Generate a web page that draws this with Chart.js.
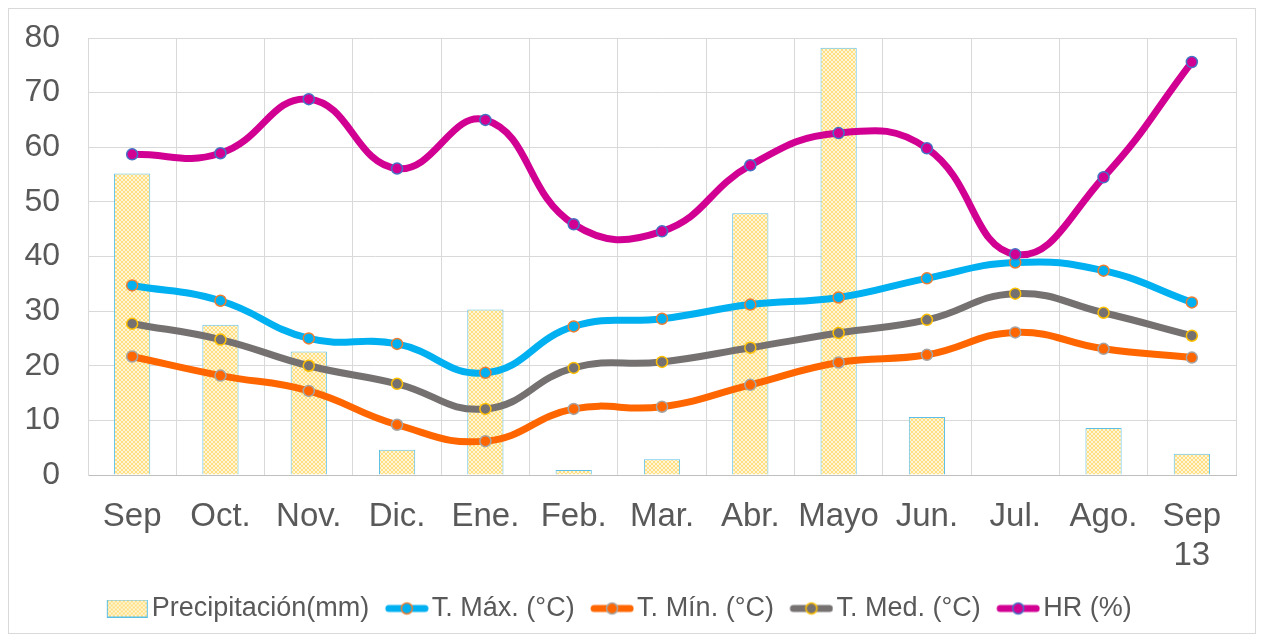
<!DOCTYPE html>
<html>
<head>
<meta charset="utf-8">
<script src="https://cdn.jsdelivr.net/npm/chart.js@4"></script>
<style>
  html, body { margin: 0; padding: 0; background: #fff; }
  #wrap { width: 1264px; height: 636px; }
</style>
</head>
<body>
<div id="wrap"><canvas id="chart" width="1264" height="636"></canvas></div>
<script>
const months = ['Sep', 'Oct.', 'Nov.', 'Dic.', 'Ene.', 'Feb.', 'Mar.', 'Abr.', 'Mayo', 'Jun.', 'Jul.', 'Ago.', ['Sep', '13']];
const precip = [55.2, 27.5, 22.6, 4.6, 30.3, 0.9, 2.9, 47.9, 78.2, 10.6, 0, 8.6, 3.9];
const tMax = [34.7, 31.9, 25.0, 24.0, 18.7, 27.2, 28.6, 31.2, 32.5, 36.0, 38.9, 37.4, 31.6];
const tMin = [21.7, 18.2, 15.4, 9.2, 6.2, 12.1, 12.5, 16.5, 20.6, 22.0, 26.1, 23.1, 21.5];
const tMed = [27.7, 24.8, 20.0, 16.7, 12.1, 19.6, 20.7, 23.3, 26.0, 28.4, 33.2, 29.7, 25.5];
const hr = [58.7, 58.9, 68.8, 56.1, 65.0, 45.9, 44.6, 56.7, 62.6, 59.8, 40.4, 54.5, 75.6];
const yTicks = [0, 10, 20, 30, 40, 50, 60, 70, 80];

const textColor = '#595959';
const fontFamily = 'Liberation Sans, Arial';
const legendSize = 27;
const ctx = document.getElementById('chart').getContext('2d');

// cross-hatched yellow fill used by the precipitation bars
function makePattern() {
    const c = document.createElement('canvas');
    c.width = 4; c.height = 4;
    const p = c.getContext('2d');
    p.fillStyle = '#fff6d9';
    p.fillRect(0, 0, 4, 4);
    p.fillStyle = '#ffdf80';
    [[0, 0], [1, 1], [2, 2], [3, 3], [3, 0], [2, 1], [1, 2], [0, 3]].forEach(q => p.fillRect(q[0], q[1], 1, 1));
    return ctx.createPattern(c, 'repeat');
}
const hatch = makePattern();

// legend swatches; the mark sits on the right of a wider canvas so the text sits close
const boxW = 34;
const SW = boxW + legendSize - 6;
function lineSwatch(lineColor, fill, stroke) {
    const c = document.createElement('canvas');
    c.width = SW; c.height = 16;
    const p = c.getContext('2d');
    const x0 = SW - 44;
    p.strokeStyle = lineColor;
    p.lineWidth = 7;
    p.lineCap = 'round';
    p.beginPath(); p.moveTo(x0 + 4, 8); p.lineTo(x0 + 40, 8); p.stroke();
    p.beginPath(); p.arc(x0 + 22, 8, 5.5, 0, Math.PI * 2);
    p.fillStyle = fill; p.fill();
    p.lineWidth = 1.5; p.strokeStyle = stroke; p.stroke();
    return c;
}
function barSwatch() {
    const c = document.createElement('canvas');
    c.width = SW; c.height = 18;
    const p = c.getContext('2d');
    const x0 = SW - 42;
    p.fillStyle = hatch;
    p.fillRect(x0, 1, 40, 16);
    p.strokeStyle = '#5bc0e8';
    p.lineWidth = 1;
    p.strokeRect(x0 + 0.5, 0.5, 40, 17);
    return c;
}

const series = [
    { label: 'T. Máx. (°C)', data: tMax, color: '#00b0f0', stroke: '#ed7d31' },
    { label: 'T. Mín. (°C)', data: tMin, color: '#ff6600', stroke: '#a5a5a5' },
    { label: 'T. Med. (°C)', data: tMed, color: '#767171', stroke: '#ffc000' },
    { label: 'HR (%)', data: hr, color: '#d10093', stroke: '#4472c4' }
];

const datasets = [{
    type: 'bar',
    label: 'Precipitación(mm)',
    data: precip,
    backgroundColor: hatch,
    borderColor: '#5bc0e8',
    borderWidth: 1,
    barPercentage: 0.41,
    categoryPercentage: 1,
    order: 10,
    swatch: barSwatch()
}];
series.forEach((s, i) => {
    datasets.push({
        type: 'line',
        label: s.label,
        data: s.data,
        borderColor: s.color,
        borderWidth: 7,
        tension: 0.45,
        pointRadius: 5.5,
        pointBorderWidth: 1.5,
        pointBackgroundColor: s.color,
        pointBorderColor: s.stroke,
        order: 5 - i,
        swatch: lineSwatch(s.color, s.color, s.stroke)
    });
});

const frame = {
    id: 'frame',
    afterDraw(chart) {
        const c = chart.ctx;
        c.save();
        c.strokeStyle = '#d9d9d9';
        c.lineWidth = 1;
        c.strokeRect(8.5, 8.5, 1247, 625);
        c.restore();
    }
};

new Chart(ctx, {
    type: 'bar',
    data: { labels: months, datasets: datasets },
    options: {
        responsive: false,
        animation: false,
        layout: { padding: { top: 38, right: 28, bottom: 4, left: 0 } },
        plugins: {
            tooltip: { enabled: false },
            legend: {
                position: 'bottom',
                labels: {
                    usePointStyle: true,
                    pointStyleWidth: boxW,
                    padding: 15,
                    color: textColor,
                    font: { family: fontFamily, size: legendSize },
                    generateLabels: function(chart) {
                        return chart.data.datasets.map((d, i) => ({
                            text: d.label,
                            pointStyle: d.swatch,
                            fontColor: textColor,
                            datasetIndex: i,
                            hidden: false,
                            lineWidth: 0
                        }));
                    }
                }
            }
        },
        scales: {
            x: {
                offset: true,
                grid: { color: '#d9d9d9', offset: true, drawTicks: false },
                border: { color: '#bfbfbf' },
                ticks: {
                    color: textColor,
                    padding: 22,
                    maxRotation: 0,
                    font: { family: fontFamily, size: 33 }
                },
                afterFit: function(scale) {
                    scale.height = 105;
                    scale.paddingLeft = 0; scale.paddingRight = 0;
                }
            },
            y: {
                min: 0,
                max: 80,
                afterBuildTicks: function(scale) { scale.ticks = yTicks.map(v => ({ value: v })); },
                grid: { color: '#d9d9d9', drawTicks: false },
                border: { color: '#d9d9d9' },
                ticks: {
                    color: textColor,
                    padding: 28,
                    font: { family: fontFamily, size: 32 }
                },
                afterFit: function(scale) {
                    scale.width = 88;
                    scale.paddingTop = 0; scale.paddingBottom = 0;
                }
            }
        }
    },
    plugins: [frame]
});
</script>
</body>
</html>
